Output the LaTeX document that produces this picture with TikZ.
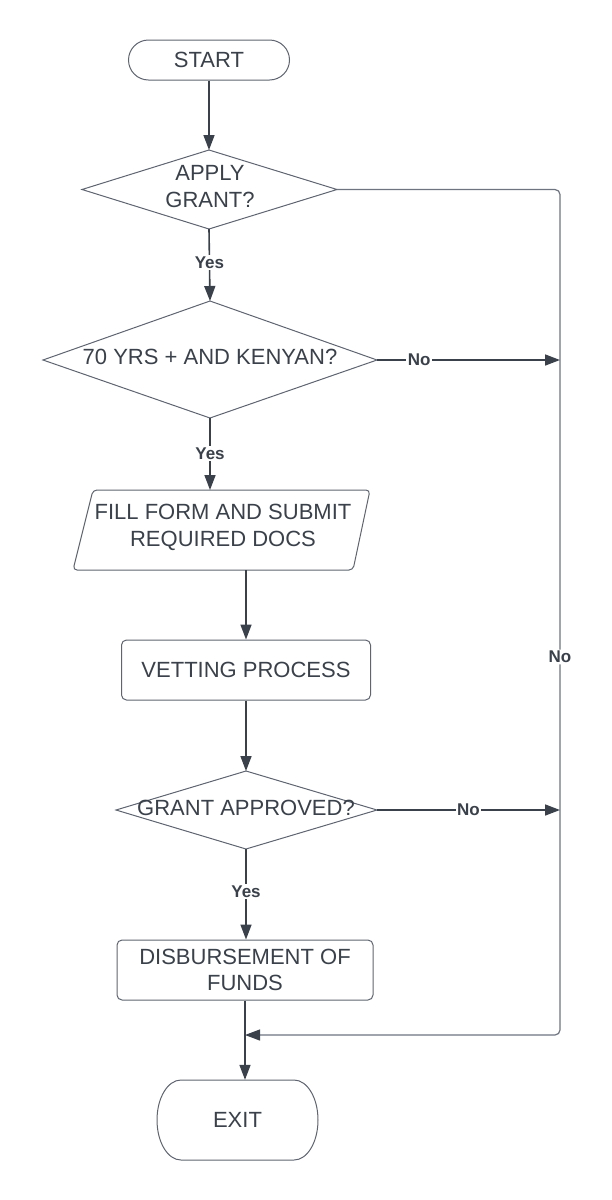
\documentclass[tikz,border=0pt]{standalone}
\usepackage{fontspec}
\setmainfont{Liberation Sans}
\usetikzlibrary{arrows.meta}
\definecolor{linec}{HTML}{3A414A}
\definecolor{grayc}{HTML}{6E7480}
\definecolor{borderc}{HTML}{5E6470}
\definecolor{textc}{HTML}{3A414A}
\begin{document}
\begin{tikzpicture}[x=1pt,y=-1pt,
  txt/.style={font=\fontsize{22}{27}\selectfont, text=textc, align=center, inner sep=0pt},
  lbl/.style={font=\fontsize{17}{19}\selectfont\bfseries, text=linec, fill=white, inner sep=1.5pt},
  conn/.style={draw=linec, line width=1.6pt, -{Triangle[length=15pt,width=11pt]}},
  ret/.style={draw=grayc, line width=1.2pt, rounded corners=5pt},
  shp/.style={draw=borderc, line width=1pt},
  procbox/.style={shp, rounded corners=5pt}
]
\useasboundingbox[fill=white] (0,0) rectangle (612,1200);

% START terminal
\node[txt, shp, rounded corners=20pt, minimum width=161pt, minimum height=40pt] (start) at (209,60) {START};

% Decision 1
\coordinate (d1l) at (82,189.5);
\coordinate (d1t) at (209,150);
\coordinate (d1r) at (337,189.5);
\coordinate (d1b) at (209,229);
\draw[shp] (d1l) -- (d1t) -- (d1r) -- (d1b) -- cycle;
\node[txt] (d1) at (210,187) {APPLY\\GRANT?};

% Decision 2
\coordinate (d2l) at (43,360);
\coordinate (d2t) at (210,301);
\coordinate (d2r) at (377,360);
\coordinate (d2b) at (210,418);
\draw[shp] (d2l) -- (d2t) -- (d2r) -- (d2b) -- cycle;
\node[txt] (d2) at (210,357) {70 YRS + AND KENYAN?};

% Parallelogram (input)
\coordinate (ptl) at (93,490);
\coordinate (ptr) at (370,490);
\coordinate (pbr) at (353,570);
\coordinate (pbl) at (73,570);
\coordinate (pin) at (210,490);
\coordinate (pout) at (246,570);
\draw[shp, rounded corners=4pt] (ptl) -- (ptr) -- (pbr) -- (pbl) -- cycle;
\node[txt] (form) at (223,527.5) {FILL FORM AND SUBMIT\\REQUIRED DOCS};

% Vetting
\node[txt, procbox, minimum width=249pt, minimum height=60pt] (vet) at (246,670) {VETTING PROCESS};

% Decision 3
\coordinate (d3l) at (116,810);
\coordinate (d3t) at (246,771);
\coordinate (d3r) at (377,810);
\coordinate (d3b) at (246,849);
\draw[shp] (d3l) -- (d3t) -- (d3r) -- (d3b) -- cycle;
\node[txt] (d3) at (246,808) {GRANT APPROVED?};

% Disbursement
\node[txt, procbox, minimum width=256pt, minimum height=60pt, font=\fontsize{22}{26}\selectfont] (disb) at (245,970) {DISBURSEMENT OF\\FUNDS};

% EXIT terminal
\node[txt, minimum width=161pt, minimum height=80pt] (exit) at (237.5,1120) {EXIT};
\draw[shp] (181,1080) -- (294,1080)
  .. controls (307.3,1080) and (318,1097.9) .. (318,1120)
  .. controls (318,1142.1) and (307.3,1160) .. (294,1160)
  -- (181,1160)
  .. controls (167.7,1160) and (157,1142.1) .. (157,1120)
  .. controls (157,1097.9) and (167.7,1080) .. (181,1080) -- cycle;

% right-hand collector line
\coordinate (rtop) at (560,189.5);
\coordinate (rbot) at (560,1035);
\coordinate (join) at (245,1035);
\coordinate (j2) at (560,360);
\coordinate (j3) at (560,810);

\draw[ret, -{Triangle[length=15pt,width=11pt,color=linec]}] (d1r) -- (rtop) -- node[lbl, pos=0.553] {No} (rbot) -- (join);

% connectors
\draw[conn] (start.south) -- (d1t);
\draw[conn] (d1b) -- node[lbl, pos=0.47] {Yes} (d2t);
\draw[conn] (d2r) -- node[lbl, pos=0.23] {No} (j2);
\draw[conn] (d2b) -- node[lbl, pos=0.49] {Yes} (pin);
\draw[conn] (pout) -- (vet.north);
\draw[conn] (vet.south) -- (d3t);
\draw[conn] (d3r) -- node[lbl, pos=0.5] {No} (j3);
\draw[conn] (d3b) -- node[lbl, pos=0.47] {Yes} (d3b |- disb.north);
\draw[conn] (disb.south) -- (disb.south |- exit.north);
\end{tikzpicture}
\end{document}
